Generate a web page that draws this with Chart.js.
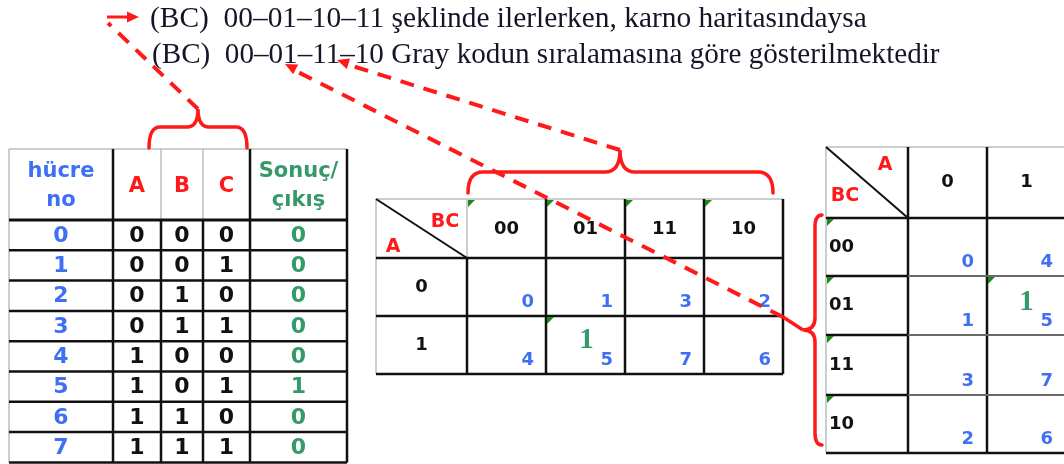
<!DOCTYPE html>
<html lang="tr">
<head>
<meta charset="utf-8">
<title>Karnaugh haritası - hücre numaraları</title>
<script src="https://cdn.jsdelivr.net/npm/chart.js@4.4.1/dist/chart.umd.min.js"></script>
<style>
  html, body { margin: 0; padding: 0; background: #fff; }
  #wrap { width: 1064px; height: 464px; }
</style>
</head>
<body>
<div id="wrap"><canvas id="kmap" width="1064" height="464"></canvas></div>
<script>
// ==========================================
// Data
// ==========================================
const titleLines = [
    '(BC)  00–01–10–11 şeklinde ilerlerken, karno haritasındaysa',
    '(BC)  00–01–11–10 Gray kodun sıralamasına göre gösterilmektedir'
];
const tableHeads = [['hücre', 'no'], ['A'], ['B'], ['C'], ['Sonuç/', 'çıkış']];
const cellNo = [0, 1, 2, 3, 4, 5, 6, 7];
const inA    = [0, 0, 0, 0, 1, 1, 1, 1];
const inB    = [0, 0, 1, 1, 0, 0, 1, 1];
const inC    = [0, 1, 0, 1, 0, 1, 0, 1];
const output = [0, 0, 0, 0, 0, 1, 0, 0];
const grayBC = ['00', '01', '11', '10'];
const valuesA = ['0', '1'];
const labelA = 'A';
const labelBC = 'BC';

// ==========================================
// Layout (diagram units = canvas px)
// ==========================================
const TT = { cols: [9, 113, 161, 203, 250, 347], top: 149, head: 220, rowH: 30.3 };
const K1 = { cols: [376, 467, 546, 625, 704, 783], rows: [199, 258, 316, 374] };
const K2 = { cols: [826, 908, 987, 1066], rows: [147, 218, 276, 335, 395, 453] };

const BLUE = '#3f70f4';
const RED = '#ff1a1a';
const GREEN = '#35996a';
const DARK = '#111111';
const GRID = '#bcbcbc';
const TRI = '#1b8a1b';
const SANS = '"DejaVu Sans", sans-serif';
const SERIF = '"Liberation Serif", "Times New Roman", serif';

function cellIndex(a, bc) {
    return parseInt(a + bc, 2);
}

const diagram = {
    id: 'diagram',
    beforeDraw(chart) {
        const ctx = chart.ctx;
        ctx.save();
        ctx.fillStyle = '#ffffff';
        ctx.fillRect(0, 0, chart.width, chart.height);
        ctx.restore();
    },
    afterDraw(chart) {
        const ctx = chart.ctx;
        const sx = chart.scales.x;
        const sy = chart.scales.y;
        const X = v => sx.getPixelForValue(v);
        const Y = v => sy.getPixelForValue(v);

        function line(x1, y1, x2, y2, color, w) {
            ctx.beginPath();
            ctx.strokeStyle = color;
            ctx.lineWidth = w;
            ctx.moveTo(X(x1), Y(y1));
            ctx.lineTo(X(x2), Y(y2));
            ctx.stroke();
        }
        function text(str, x, y, font, color, align) {
            ctx.font = font;
            ctx.fillStyle = color;
            ctx.textAlign = align || 'center';
            ctx.textBaseline = 'middle';
            ctx.fillText(str, X(x), Y(y));
        }
        function tri(x, y) {
            ctx.beginPath();
            ctx.fillStyle = TRI;
            ctx.moveTo(X(x), Y(y));
            ctx.lineTo(X(x + 7), Y(y));
            ctx.lineTo(X(x), Y(y + 7));
            ctx.closePath();
            ctx.fill();
        }
        function arrowHead(tx, ty, fx, fy, len, half) {
            const dx = tx - fx, dy = ty - fy;
            const d = Math.hypot(dx, dy);
            const ux = dx / d, uy = dy / d;
            const bx = tx - ux * len, by = ty - uy * len;
            ctx.beginPath();
            ctx.fillStyle = RED;
            ctx.moveTo(X(tx), Y(ty));
            ctx.lineTo(X(bx - uy * half), Y(by + ux * half));
            ctx.lineTo(X(bx + uy * half), Y(by - ux * half));
            ctx.closePath();
            ctx.fill();
        }
        function dashed(x1, y1, x2, y2) {
            ctx.save();
            ctx.setLineDash([14, 10]);
            ctx.lineCap = 'butt';
            line(x1, y1, x2, y2, RED, 4);
            ctx.restore();
        }
        function braceH(x1, x2, yEnd, yBar, xp, yp, r) {
            ctx.beginPath();
            ctx.strokeStyle = RED;
            ctx.lineWidth = 3.5;
            ctx.moveTo(X(x1), Y(yEnd));
            ctx.quadraticCurveTo(X(x1), Y(yBar), X(x1 + r), Y(yBar));
            ctx.lineTo(X(xp - r), Y(yBar));
            ctx.quadraticCurveTo(X(xp), Y(yBar), X(xp), Y(yp));
            ctx.quadraticCurveTo(X(xp), Y(yBar), X(xp + r), Y(yBar));
            ctx.lineTo(X(x2 - r), Y(yBar));
            ctx.quadraticCurveTo(X(x2), Y(yBar), X(x2), Y(yEnd));
            ctx.stroke();
        }
        function braceV(y1, y2, xEnd, xBar, xp, yp, r) {
            ctx.beginPath();
            ctx.strokeStyle = RED;
            ctx.lineWidth = 3.5;
            ctx.moveTo(X(xEnd), Y(y1));
            ctx.quadraticCurveTo(X(xBar), Y(y1), X(xBar), Y(y1 + r));
            ctx.lineTo(X(xBar), Y(yp - r));
            ctx.quadraticCurveTo(X(xBar), Y(yp), X(xp), Y(yp));
            ctx.quadraticCurveTo(X(xBar), Y(yp), X(xBar), Y(yp + r));
            ctx.lineTo(X(xBar), Y(y2 - r));
            ctx.quadraticCurveTo(X(xBar), Y(y2), X(xEnd), Y(y2));
            ctx.stroke();
        }

        // ---------- title lines ----------
        const titleX = [150, 152];
        const titleW = [717, 788];
        const titleY = [19, 55];
        titleLines.forEach((str, i) => {
            ctx.font = '20px ' + SERIF;
            const size = 20 * titleW[i] / ctx.measureText(str).width;
            text(str, titleX[i], titleY[i], size.toFixed(2) + 'px ' + SERIF, '#15152a', 'left');
        });

        // ---------- truth table ----------
        const c = TT.cols;
        const rowY = i => TT.head + TT.rowH * i;
        const bottom = rowY(cellNo.length);
        line(c[0], TT.top, c[5], TT.top, GRID, 1.5);
        line(c[0], TT.top, c[0], bottom, GRID, 1.5);
        line(c[2], TT.top, c[2], TT.head, GRID, 1.5);
        line(c[3], TT.top, c[3], TT.head, GRID, 1.5);
        [c[1], c[4], c[5]].forEach(x => line(x, TT.top, x, bottom, DARK, 2.5));
        [c[2], c[3]].forEach(x => line(x, TT.head, x, bottom, DARK, 2.5));
        for (let i = 0; i <= cellNo.length; i++) {
            line(c[0], rowY(i), c[5], rowY(i), DARK, i === 0 ? 3 : 2.5);
        }
        const headColors = [BLUE, RED, RED, RED, GREEN];
        const headFont = 'bold 21px ' + SANS;
        tableHeads.forEach((h, j) => {
            const cx = (c[j] + c[j + 1]) / 2;
            if (h.length === 2) {
                text(h[0], cx, 172, headFont, headColors[j]);
                text(h[1], cx, 201, headFont, headColors[j]);
            } else {
                text(h[0], cx, 187, headFont, headColors[j]);
            }
        });
        const bodyFont = 'bold 22px ' + SANS;
        const cols = [cellNo, inA, inB, inC, output];
        const bodyColors = [BLUE, DARK, DARK, DARK, GREEN];
        cellNo.forEach((n, i) => {
            const cy = rowY(i) + TT.rowH / 2 + 1;
            cols.forEach((arr, j) => {
                text(String(arr[i]), (c[j] + c[j + 1]) / 2, cy, bodyFont, bodyColors[j]);
            });
        });

        // ---------- K-map 1 (A rows, BC columns) ----------
        const k = K1.cols, r = K1.rows;
        line(k[0], r[0], k[5], r[0], GRID, 1.5);
        line(k[0], r[0], k[0], r[3], GRID, 1.5);
        line(k[1], r[0], k[1], r[1], GRID, 1.5);
        line(k[1], r[1], k[1], r[3], DARK, 2.5);
        [k[2], k[3], k[4], k[5]].forEach(x => line(x, r[0], x, r[3], DARK, 2.5));
        [r[1], r[2], r[3]].forEach(y => line(k[0], y, k[5], y, DARK, 2.5));
        line(k[0], r[0], k[1], r[1], DARK, 2);
        text(labelBC, 445, 222, 'bold 19px ' + SANS, RED);
        text(labelA, 393, 247, 'bold 19px ' + SANS, RED);
        grayBC.forEach((bc, j) => {
            text(bc, (k[j + 1] + k[j + 2]) / 2, 229, 'bold 18px ' + SANS, DARK);
            tri(k[j + 1] + 1, r[0] + 1);
        });
        valuesA.forEach((a, i) => {
            const top = r[i + 1], bot = r[i + 2];
            text(a, (k[0] + k[1]) / 2, (top + bot) / 2, 'bold 18px ' + SANS, DARK);
            grayBC.forEach((bc, j) => {
                const idx = cellIndex(a, bc);
                const left = k[j + 1], right = k[j + 2];
                text(String(idx), right - 12, bot - 14, 'bold 18px ' + SANS, BLUE, 'right');
                if (output[idx] === 1) {
                    tri(left + 1, top + 1);
                    text('1', (left + right) / 2 + 1, (top + bot) / 2 - 4, 'bold 29px ' + SERIF, GREEN);
                }
            });
        });

        // ---------- K-map 2 (BC rows, A columns) ----------
        const q = K2.cols, s = K2.rows;
        line(q[0], s[0], q[3], s[0], GRID, 1.5);
        line(q[0], s[0], q[0], s[5], GRID, 1.5);
        [q[1], q[2]].forEach(x => line(x, s[0], x, s[5], DARK, 2.5));
        line(q[0], s[1], q[3], s[1], DARK, 2.5);
        line(q[0], s[5], q[3], s[5], DARK, 2.5);
        [s[2], s[3], s[4]].forEach(y => {
            line(q[0], y, q[1], y, DARK, 2.5);
            line(q[1], y, q[3], y, '#6a6a6a', 1.8);
        });
        line(q[0], s[0], q[1], s[1], DARK, 2);
        text(labelA, 885, 165, 'bold 19px ' + SANS, RED);
        text(labelBC, 845, 196, 'bold 19px ' + SANS, RED);
        valuesA.forEach((a, j) => {
            text(a, (q[j + 1] + q[j + 2]) / 2, (s[0] + s[1]) / 2, 'bold 18px ' + SANS, DARK);
        });
        grayBC.forEach((bc, i) => {
            const top = s[i + 1], bot = s[i + 2];
            text(bc, 829, (top + bot) / 2, 'bold 18px ' + SANS, DARK, 'left');
            tri(q[0] + 1, top + 1);
            valuesA.forEach((a, j) => {
                const idx = cellIndex(a, bc);
                const left = q[j + 1], right = q[j + 2];
                text(String(idx), right - 13, bot - 14, 'bold 18px ' + SANS, BLUE, 'right');
                if (output[idx] === 1) {
                    tri(left + 1, top + 1);
                    text('1', (left + right) / 2, (top + bot) / 2 - 3, 'bold 29px ' + SERIF, GREEN);
                }
            });
        });

        // ---------- braces, dashed pointers ----------
        ctx.save();
        ctx.lineCap = 'round';
        braceH(149, 247, 148, 127, 198, 109, 11);
        braceH(468, 773, 193, 172, 620, 150, 15);
        braceV(215, 445, 822, 815, 803, 330, 12);
        ctx.restore();

        dashed(198, 109, 108, 23);
        line(107, 17, 128, 17, RED, 3);
        arrowHead(139, 17, 107, 17, 12, 5.5);

        dashed(620, 150, 346, 64);
        arrowHead(337, 60, 620, 150, 12, 5.5);

        dashed(783, 317, 294, 70);
        line(783, 317, 803, 330, RED, 3.5);
        arrowHead(285, 64, 783, 317, 12, 5.5);
    }
};

new Chart(document.getElementById('kmap'), {
    type: 'scatter',
    data: { datasets: [] },
    options: {
        responsive: false,
        animation: false,
        events: [],
        layout: { padding: 0 },
        plugins: {
            legend: { display: false },
            tooltip: { enabled: false }
        },
        scales: {
            x: { type: 'linear', min: 0, max: 1064, display: false },
            y: { type: 'linear', min: 0, max: 464, reverse: true, display: false }
        }
    },
    plugins: [diagram]
});
</script>
</body>
</html>
